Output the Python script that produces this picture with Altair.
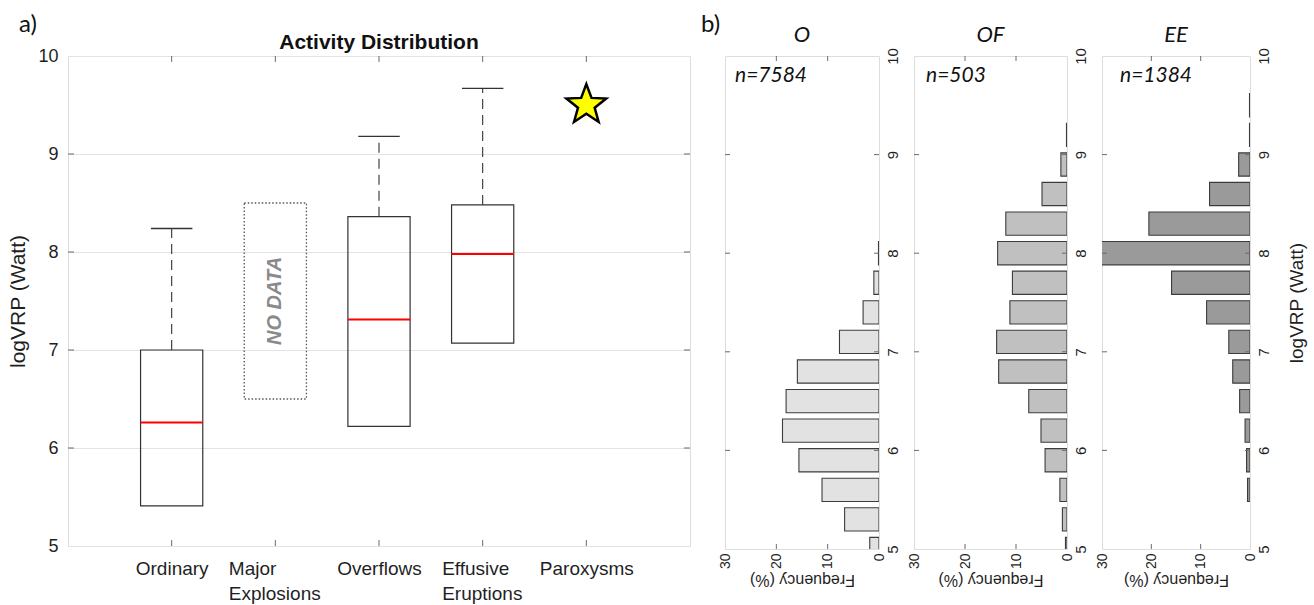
import math
import altair as alt
import pandas as pd

# ---------------- Panel a data ----------------
cat_positions = [1, 2, 3, 4, 5]
cat_label_lines = [
    ["Ordinary"],
    ["Major", "Explosions"],
    ["Overflows"],
    ["Effusive", "Eruptions"],
    ["Paroxysms"],
]
box_names = ["Ordinary", "Overflows", "Effusive Eruptions"]
box_positions = [1, 3, 4]
box_q1 = [5.41, 6.22, 7.07]
box_median = [6.26, 7.31, 7.98]
box_q3 = [7.00, 8.36, 8.48]
box_whisker_hi = [8.24, 9.18, 9.67]
nodata_position = [2]
nodata_low = [6.5]
nodata_high = [8.5]
parox_position = [5]
parox_value = [9.5]
a_y_ticks = [5, 6, 7, 8, 9, 10]
a_inner_y_ticks = [6, 7, 8, 9]
panel_labels = ["a)", "b)"]
panel_a_title = "Activity Distribution"

# ---------------- Panel b data ----------------
o_centers = [5.0, 5.3, 5.6, 5.9, 6.2, 6.5, 6.8, 7.1, 7.4, 7.7, 8.0]
o_freq = [1.8, 6.7, 11.1, 15.6, 18.8, 18.1, 15.9, 7.7, 3.1, 1.0, 0.1]
of_centers = [5.0, 5.3, 5.6, 5.9, 6.2, 6.5, 6.8, 7.1, 7.4, 7.7, 8.0, 8.3, 8.6, 8.9, 9.2]
of_freq = [0.3, 0.9, 1.4, 4.3, 5.1, 7.5, 13.4, 13.8, 11.2, 10.7, 13.6, 12.0, 4.9, 1.2, 0.1]
ee_centers = [5.6, 5.9, 6.2, 6.5, 6.8, 7.1, 7.4, 7.7, 8.0, 8.3, 8.6, 8.9, 9.2, 9.5]
ee_freq = [0.5, 0.7, 1.0, 2.1, 3.5, 4.3, 8.8, 15.9, 31.0, 20.5, 8.2, 2.3, 0.1, 0.1]
hist_names = ["O", "OF", "EE"]
hist_counts = [7584, 503, 1384]
freq_ticks = [0, 10, 20, 30]
freq_inner_ticks = [10, 20]
b_y_ticks = [5, 6, 7, 8, 9, 10]
b_inner_y_ticks = [6, 7, 8, 9]

# ---------------- styling ----------------
FONT = "Liberation Sans"
ITAL = "Lato"
INK = "#1f1f1f"
FRAME = "#6b6b6b"

W_A, H_A = 622, 490
H_B = 493
W_O, W_OF, W_EE = 154, 153, 148

# ---------------- Panel a ----------------
xa = alt.Scale(domain=[0, 6], nice=False, zero=False)
ya = alt.Scale(domain=[5, 10], nice=False, zero=False)


def js_lines(lines):
    return "[" + ", ".join("'" + s + "'" for s in lines) + "]"


label_expr = " : ".join(
    f"datum.value == {p} ? {js_lines(l)}" for p, l in zip(cat_positions, cat_label_lines)
) + " : ''"

# two-line labels are a left-aligned block centred on the tick (as in the original)
multi_positions = [p for p, l in zip(cat_positions, cat_label_lines) if len(l) > 1]
multi_test = " || ".join(f"datum.value == {p}" for p in multi_positions)

cat_df = pd.DataFrame({"pos": cat_positions})
ytick_df = pd.DataFrame({"v": a_inner_y_ticks})

XA = alt.Axis(
    values=cat_positions, labelExpr=label_expr, title=None, tickSize=0, domain=False,
    grid=False, labelFontSize=19, labelPadding=13, labelLineHeight=25, labelColor=INK,
    labelOverlap=False, labelFlush=False, labelFont=FONT,
    labelAlign={"condition": {"test": multi_test, "value": "left"}, "value": "center"},
    labelOffset={"condition": [{"test": "datum.value == 2", "value": -47},
                               {"test": "datum.value == 4", "value": -41}], "value": 0},
)
YA = alt.Axis(
    values=a_y_ticks, title="logVRP (Watt)", titleFontSize=21, titleFontWeight="normal",
    titleColor=INK, titleFont=FONT, titlePadding=9, tickSize=0, domain=False, grid=True,
    gridColor="#e3e3e3", gridWidth=1, labelFontSize=18, labelPadding=10, labelColor=INK,
    labelFont=FONT, labelOverlap=False, labelFlush=False,
)


def xq(field):
    return alt.X(field, type="quantitative", scale=xa, axis=XA)


def yq(field):
    return alt.Y(field, type="quantitative", scale=ya, axis=YA)


bottom_ticks = alt.Chart(cat_df).mark_rule(color=FRAME, strokeWidth=1).encode(
    x=xq("pos"), y=alt.value(H_A - 6), y2=alt.value(H_A))
top_ticks = alt.Chart(cat_df).mark_rule(color=FRAME, strokeWidth=1).encode(
    x=xq("pos"), y=alt.value(0), y2=alt.value(6))
left_ticks = alt.Chart(ytick_df).mark_rule(color=FRAME, strokeWidth=1).encode(
    y=yq("v"), x=alt.value(0), x2=alt.value(6))
right_ticks = alt.Chart(ytick_df).mark_rule(color=FRAME, strokeWidth=1).encode(
    y=yq("v"), x=alt.value(W_A - 6), x2=alt.value(W_A))

box_df = pd.DataFrame({
    "name": box_names, "pos": box_positions, "q1": box_q1, "med": box_median,
    "q3": box_q3, "whi": box_whisker_hi,
})
box_base = alt.Chart(box_df).transform_calculate(
    lo="datum.pos - 0.3", hi="datum.pos + 0.3", clo="datum.pos - 0.2", chi="datum.pos + 0.2")
boxes = box_base.mark_rect(fill="white", fillOpacity=0, stroke="#333333", strokeWidth=1.2).encode(
    x=xq("lo"), x2="hi:Q", y=yq("q1"), y2="q3:Q")
medians = box_base.mark_rule(color="#ff0000", strokeWidth=2).encode(
    x=xq("lo"), x2="hi:Q", y=yq("med"))
whiskers = box_base.mark_rule(color="#333333", strokeWidth=1.1, strokeDash=[10, 6]).encode(
    x=xq("pos"), y=yq("q3"), y2="whi:Q")
caps = box_base.mark_rule(color="#333333", strokeWidth=1.3).encode(
    x=xq("clo"), x2="chi:Q", y=yq("whi"))

nd_df = pd.DataFrame({"pos": nodata_position, "lo": nodata_low, "hi": nodata_high})
nd_base = alt.Chart(nd_df).transform_calculate(
    xl="datum.pos - 0.3", xh="datum.pos + 0.3", mid="(datum.lo + datum.hi) / 2")
nd_box = nd_base.mark_rect(fill="white", fillOpacity=0, stroke="#555555", strokeWidth=1.3,
                           strokeDash=[1.5, 2]).encode(
    x=xq("xl"), x2="xh:Q", y=yq("lo"), y2="hi:Q")
nd_text = nd_base.mark_text(angle=270, text="NO DATA", font=FONT, fontSize=20, fontWeight="bold",
                            fontStyle="italic", color="#8a8a8a").encode(
    x=xq("pos"), y=yq("mid"))

star_pts = []
for k in range(10):
    r = 1.0 if k % 2 == 0 else 0.42
    ang = math.radians(-90 + 36 * k)
    star_pts.append(f"{r * math.cos(ang):.4f},{r * math.sin(ang):.4f}")
STAR = "M" + " L".join(star_pts) + " Z"

star = alt.Chart(pd.DataFrame({"pos": parox_position, "v": parox_value})).mark_point(
    shape=STAR, size=1750, filled=True, fill="#ffff00", stroke="#000000", strokeWidth=2.5,
    opacity=1).encode(x=xq("pos"), y=yq("v"))

a_label = alt.Chart(pd.DataFrame({"t": [panel_labels[0]]})).mark_text(
    align="left", baseline="middle", font=ITAL, fontSize=24, color="#111111").encode(
    x=alt.value(-49), y=alt.value(-31), text="t:N")
a_title = alt.Chart(pd.DataFrame({"t": [panel_a_title]})).mark_text(
    align="center", baseline="alphabetic", font=FONT, fontSize=21, fontWeight="bold",
    color="#111111").encode(x=alt.value(W_A / 2), y=alt.value(-7), text="t:N")

panel_a = alt.layer(
    bottom_ticks, top_ticks, left_ticks, right_ticks, nd_box, nd_text, boxes, whiskers,
    caps, medians, star, a_label, a_title,
).properties(width=W_A, height=H_A)


# ---------------- Panel b ----------------
def hist_panel(centers, freqs, fill, name, count, n_x, width, show_title, panel_label=None):
    df = pd.DataFrame({"c": centers, "f": freqs})
    fs = alt.Scale(domain=[0, 30], reverse=True, nice=False, zero=False)
    ys = alt.Scale(domain=[5, 10], nice=False, zero=False)
    x_axis = alt.Axis(
        values=freq_ticks, labelAngle=270, labelAlign="right", labelBaseline="middle",
        labelFontSize=14, labelFont=FONT, labelColor=INK, labelPadding=4, tickSize=0,
        domain=False, grid=False, labelFlush=False, labelOverlap=False,
        title="Frequency (%)", titleAngle=180, titleBaseline="bottom", titleFontSize=16,
        titleFontWeight="normal", titleFont=FONT, titleColor=INK, titlePadding=3,
    )
    yk = dict(
        orient="right", values=b_y_ticks, labelAngle=270, labelAlign="center",
        labelBaseline="top", labelFontSize=15, labelFont=FONT, labelColor=INK,
        labelPadding=6, tickSize=0, domain=False, grid=False, labelFlush=False,
        labelOverlap=False,
    )
    if show_title:
        yk.update(title="logVRP (Watt)", titleAngle=270, titleBaseline="top",
                  titleFontSize=19, titleFontWeight="normal", titleFont=FONT,
                  titleColor=INK, titlePadding=16)
    else:
        yk["title"] = None
    y_axis = alt.Axis(**yk)

    def xf(field):
        return alt.X(field, type="quantitative", scale=fs, axis=x_axis)

    def yf(field):
        return alt.Y(field, type="quantitative", scale=ys, axis=y_axis)

    bars = alt.Chart(df).transform_calculate(
        lo="datum.c - 0.118", hi="datum.c + 0.118"
    ).mark_rect(fill=fill, stroke="#3c3c3c", strokeWidth=1.1, clip=True).encode(
        x=xf("f"), x2=alt.datum(0), y=yf("lo"), y2="hi:Q")

    ft_df = pd.DataFrame({"f": freq_inner_ticks})
    yt_df = pd.DataFrame({"v": b_inner_y_ticks})
    t1 = alt.Chart(ft_df).mark_rule(color=FRAME).encode(
        x=xf("f"), y=alt.value(0), y2=alt.value(5))
    t2 = alt.Chart(ft_df).mark_rule(color=FRAME).encode(
        x=xf("f"), y=alt.value(H_B - 5), y2=alt.value(H_B))
    t3 = alt.Chart(yt_df).mark_rule(color=FRAME).encode(
        y=yf("v"), x=alt.value(0), x2=alt.value(5))
    t4 = alt.Chart(yt_df).mark_rule(color=FRAME).encode(
        y=yf("v"), x=alt.value(width - 5), x2=alt.value(width))

    n_text = alt.Chart(pd.DataFrame({"n": [count]})).transform_calculate(
        label="'n=' + datum.n"
    ).mark_text(align="left", baseline="middle", font=ITAL, fontStyle="italic",
                fontSize=21, color="#111111").encode(
        x=alt.value(n_x), y=alt.value(20), text="label:N")

    title_text = alt.Chart(pd.DataFrame({"t": [name]})).mark_text(
        align="center", baseline="alphabetic", font=ITAL, fontStyle="italic", fontSize=22,
        color="#111111").encode(x=alt.value(width / 2), y=alt.value(-14), text="t:N")

    layers = [bars, t1, t2, t3, t4, n_text, title_text]
    if panel_label is not None:
        layers.append(alt.Chart(pd.DataFrame({"t": [panel_label]})).mark_text(
            align="left", baseline="middle", font=ITAL, fontSize=24, color="#111111").encode(
            x=alt.value(-24), y=alt.value(-31), text="t:N"))
    return alt.layer(*layers).properties(width=width, height=H_B)


h_o = hist_panel(o_centers, o_freq, "#e2e2e2", hist_names[0], hist_counts[0], 10, W_O, False,
                 panel_labels[1])
h_of = hist_panel(of_centers, of_freq, "#c0c0c0", hist_names[1], hist_counts[1], 12, W_OF, False)
h_ee = hist_panel(ee_centers, ee_freq, "#9a9a9a", hist_names[2], hist_counts[2], 18, W_EE, True)

chart = alt.hconcat(panel_a, h_o, h_of, h_ee, spacing=35, bounds="flush").properties(
    padding={"left": 7, "top": 12, "right": 4, "bottom": 4},
    background="white",
).configure_view(
    stroke=FRAME, strokeWidth=1.3, fill="white"
).configure(font=FONT)

chart.save("out.html", embed_options={"renderer": "svg", "actions": False})
